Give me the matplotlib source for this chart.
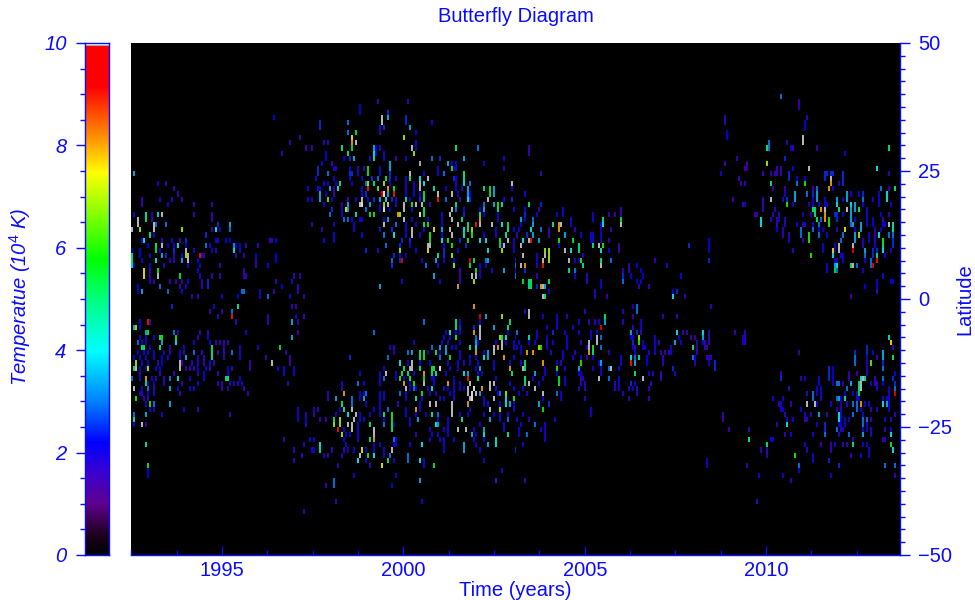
import numpy as np
import matplotlib
matplotlib.use("Agg")
import matplotlib.pyplot as plt
from matplotlib.colors import LinearSegmentedColormap
from matplotlib.ticker import MultipleLocator, FixedLocator

plt.rcParams['font.family'] = ['Liberation Sans', 'DejaVu Sans']
plt.rcParams['mathtext.fontset'] = 'custom'
plt.rcParams['mathtext.rm'] = 'Liberation Sans'
plt.rcParams['mathtext.it'] = 'Liberation Sans:italic'
plt.rcParams['mathtext.default'] = 'it'

TITLE = "Butterfly Diagram"
XLABEL = "Time (years)"
YLABEL_RIGHT = "Latitude"
YLABEL_LEFT = r"Temperatue (10$^{4}$ K)"
TIME_RANGE = (1992.49, 2013.69)
LAT_RANGE = (-50, 50)
TEMP_RANGE = (0, 10)

# each row: latitude -> flat list of year, temperature (10^4 K); >10 is off-scale (grey/white)
north_c22 = {
 35.5:[1996.42,2.2], 30.5:[1996.88,1.6], 28.5:[1996.65,1.8],
 24.5:[1992.55,3.5], 22.5:[1993.26,2,1993.46,1.6], 21.5:[1993.69,1.5], 20.5:[1993.76,1.5],
 19.5:[1992.78,1.6,1992.82,1.6,1993.3,2,1993.6,1.7,1993.9,1.5],
 18.5:[1992.78,1.6,1993.51,2,1994.2,1.5,1994.73,1.5],
 16.5:[1992.58,2,1992.93,4.5,1993.09,1.6,1993.22,3.8,1993.35,11,1994.2,1.5,1994.73,1.5],
 15.5:[1992.66,11,1992.93,5,1993.09,1.6,1994.73,1.5],
 14.5:[1992.66,11,1993.12,11,1993.17,3,1993.44,3,1994.86,2.5,1994.9,2.5,1995.23,3.5],
 13.5:[1992.5,11,1992.72,7,1993.12,11,1993.9,7,1994.7,1.6,1994.84,4,1994.95,2,1995.23,3],
 12.5:[1993.01,5,1993.14,2,1994.57,2.5],
 11.5:[1992.79,2,1992.86,4,1993.33,1.6,1993.6,2,1993.85,1.6,1994.03,2.5,1994.82,2,1994.87,1.6,1995.09,2.2,1995.21,2.2,1996.29,1.6,1996.35,1.6,1996.5,2.2],
 10.5:[1992.98,2.2,1993.19,5,1993.33,11,1993.53,2.2,1993.69,2,1993.79,4,1994.03,2.2,1994.57,3,1994.68,2,1995.3,3.3,1995.37,2,1995.5,2.2,1995.66,1.5,1996.01,1.6],
 9.5:[1992.53,2.2,1992.75,2.2,1993.17,5.5,1993.3,2,1993.69,2.5,1994.03,11,1994.22,2,1994.7,2,1994.82,1.5,1995.32,4,1995.5,2],
 8.5:[1992.53,5,1992.75,2.2,1993.02,2,1993.33,3.5,1993.44,2.5,1993.69,1.7,1993.9,2,1993.99,7,1994.06,11,1994.37,9,1994.45,1.6,1994.51,1.6,1995.37,1.6,1995.6,1.5,1995.92,2.2,1996.5,2.2],
 7.5:[1992.53,5,1992.79,2,1993.19,4,1993.58,1.7,1993.67,1.7,1993.9,3.5,1994.06,11,1994.33,2.2,1995.92,1.7,1996.5,2.2],
 6.5:[1992.53,4.5,1992.59,2,1993.02,2,1993.39,1.7,1994.08,2,1994.37,2,1994.95,1.5,1995.95,1.6,1996.24,2],
 5.5:[1992.84,7.5,1993.04,1.6,1993.25,5.5,1994.36,2,1995.6,1.5],
 4.5:[1992.84,7.5,1993.04,1.6,1993.25,11,1993.82,5.5,1994.37,2,1994.71,1.5,1994.95,1.5,1995.58,1.5,1995.66,1.5,1996.97,1.5],
 3.5:[1993.04,2,1993.12,1.6,1993.54,1.5,1993.71,1.5,1993.9,1.5,1994.05,2,1994.45,1.7,1994.6,2.5,1996.5,1.5,1996.93,2],
 2.5:[1992.7,2.2,1993.3,3,1993.85,1.6,1994.03,2,1994.45,1.6,1994.6,2.5,1996.65,2.2,1997.11,1.6],
 1.5:[1992.7,2.2,1992.82,3.5,1993.51,3,1993.92,2,1995.55,3,1995.62,3,1996.06,2,1996.44,1.5,1997.11,1.6],
 0.5:[1994.17,1.6,1994.36,1.6,1994.97,2,1995.46,2.2,1996.06,2,1996.24,3,1996.88,2,1997.23,1.6],
}

south_c22 = {
 -1.5:[1993.64,2.5,1994.8,2,1995.45,4.5],
 -2.5:[1994.66,1.5,1994.97,1.6,1995.29,3],
 -3.5:[1994.88,1.5,1995.29,9,1996.24,1.5],
 -4.5:[1992.75,2,1992.98,9,1993.04,1.5,1995.37,1.5,1996.24,1.5],
 -5.5:[1992.56,3.5,1992.61,7,1992.75,2],
 -6.5:[1992.9,3.5,1992.96,6,1993.7,3,1993.79,1.7,1994.4,1.6,1994.6,1.6,1995.63,2],
 -7.5:[1992.75,2,1992.93,2,1993.1,2,1993.3,5,1993.36,6,1993.74,6,1994.35,1.6,1994.6,2],
 -8.5:[1992.69,3,1992.8,2,1992.9,2,1993.36,3.5,1993.74,4,1994.2,2,1994.66,2,1994.84,1.6,1994.95,1.6,1995.07,1.6,1995.14,1.6],
 -9.5:[1992.8,5,1992.84,5,1993.02,2,1993.3,5,1993.57,1.6,1993.96,2,1994.71,5,1995.06,1.7,1995.5,2,1996.0,2],
 -10.5:[1992.7,2,1992.84,2,1992.98,2,1993.12,2,1993.4,2,1993.57,1.6,1993.82,2,1993.96,1.6,1994.2,3,1994.45,1.6,1994.71,5,1994.87,1.6,1995.07,1.7,1995.29,3,1995.5,2],
 -11.5:[1992.55,2.2,1992.75,2,1992.93,2,1993.12,2,1993.35,2.2,1993.49,2,1993.85,1.7,1994.03,3.5,1994.35,2,1994.49,1.6,1994.71,5,1995.03,1.6,1995.5,2,1996.2,1.5],
 -12.5:[1992.61,7,1992.8,2,1992.98,2,1993.21,1.6,1993.35,2.2,1993.85,11,1993.9,1.6,1994.17,2,1994.31,1.7,1994.49,1.6,1994.68,2,1994.77,1.6,1995.78,1.5,1996.39,11],
 -13.5:[1992.55,5,1992.61,11,1992.75,2,1992.89,2,1992.96,7,1993.16,2,1993.3,2.2,1993.85,11,1993.99,1.5,1994.11,1.6,1994.22,1.6,1994.31,2,1994.57,2,1994.68,1.6,1995.14,2.2,1995.29,1.5,1995.78,1.5,1996.53,2],
 -14.5:[1992.75,1.7,1993.3,1.6,1993.65,1.5,1994.31,1.7,1994.49,2,1994.89,1.5,1995.14,2],
 -15.5:[1992.53,3,1992.73,2,1992.9,8,1993.07,2,1993.19,1.6,1993.38,1.6,1993.57,3,1993.79,4,1994.1,2,1994.49,2,1995.09,5,1995.16,4.5,1995.5,2],
 -16.5:[1992.9,5,1992.98,2,1993.1,2,1993.38,2,1993.92,1.6,1994.35,2,1994.91,1.6,1994.98,1.6,1995.23,1.6,1995.3,2,1995.46,1.7,1995.53,2],
 -17.5:[1992.58,11,1992.79,2,1992.96,3,1993.12,1.6,1993.57,3.5,1993.81,2,1994.1,2,1994.25,2,1994.98,1.6,1995.16,1.6,1995.6,1.5],
 -18.5:[1992.73,2,1992.82,1.6,1992.98,2,1993.12,2,1993.85,1.5,1995.69,1.5],
 -19.5:[1992.61,6,1992.84,1.6,1992.98,1.6],
 -20.5:[1992.93,2,1993.04,6,1993.14,3,1993.57,3.5],
 -21.5:[1993.04,2,1993.14,2,1993.97,2,1994.36,1.6],
 -22.5:[1992.59,3,1992.9,3.5,1993.33,2,1995.2,1.5],
 -23.5:[1992.55,4.5],
 -24.5:[1992.55,2,1992.82,11,1992.93,1.6],
 -28.5:[1992.9,4.5],
 -32.5:[1992.96,5.5],
 -33.5:[1992.96,2.2], -34.5:[1992.96,2.2],
}

north_c23 = {
 38.5:[1999.3,1.6,2000.1,1.5], 37.5:[1998.77,2.2], 36.5:[1998.77,2.2,1999.58,2.5],
 35.5:[1999.39,11,1999.58,3.5,2000.04,2.5],
 34.5:[1997.71,2.5,1998.47,3,1999.39,11,2000.77,2,2000.04,2.5],
 33.5:[1997.71,2.5,1999.34,1.7,1999.44,2.5,2000.19,3.5],
 32.5:[1998.47,3,1998.66,5.5,1999.34,1.7,2000.33,2.2],
 31.5:[1998.58,7.5,2000.01,7,1997.16,1.5],
 30.5:[1997.82,1.7,1997.94,1.7,1998.58,8,1998.66,11,2000.33,2],
 29.5:[1997.33,1.5,1997.45,1.5,1998.31,5,1998.58,5.5,1999.2,3.5,1999.26,2,1999.34,1.7,2000.24,11,2000.33,2,2001.45,5,2002.06,3,2003.5,1.5],
 28.5:[1997.88,2.2,1998.45,5,1999.2,4,1999.26,2,1999.44,2,2000.26,7,2003.5,1.5],
 27.5:[1997.88,2.2,1998.38,2.2,1998.52,2.5,1998.61,3.5,1999.09,1.7,1999.2,4.5,1999.46,2,1999.76,1.5,2000.08,2,2000.77,3,2001.02,2.5,2001.66,3.5,2002.75,2],
 26.5:[1997.73,2,1998.03,1.5,1999.61,3.5,2000.47,10.5,2001.2,3.5,2001.31,2,2001.45,2,2002.2,2],
 25.5:[1997.62,2.5,1998.08,2,1998.15,1.7,1998.52,2,1998.72,1.7,1998.9,1.5,1999.02,5.5,1999.37,2,1999.61,3.5,2000.93,2,2001.31,6,2001.39,2,2001.45,1.7,2002.75,1.5],
 24.5:[1997.62,2.5,1997.94,3,1998.54,2.5,1998.58,2.5,1998.72,1.7,1999.02,5.5,1999.37,2,1999.64,2.5,2000.15,11,2000.19,2.2,2000.54,2,2000.93,2,2001.13,3,2001.64,5,2003.82,1.5],
 23.5:[1997.6,2,1998.1,2,1998.54,2,1998.83,2,1999.11,2.5,1999.3,3,1999.5,6,1999.62,2.5,1999.76,2,2000.05,2,2000.19,5,2000.45,4,2000.65,11,2001.36,2.5,2001.45,2,2001.64,4.5],
 22.5:[1997.78,2,1997.94,2,1998.12,2,1998.24,4.5,1998.56,2,1998.95,3,1999.02,7,1999.2,5,1999.46,7,1999.64,2,2000.05,2,2000.28,2,2000.47,11,2000.58,4,2001.43,2,2001.64,4,2001.8,3,2003.0,11],
 21.5:[1997.39,2,1997.62,1.7,1997.71,2.2,1997.97,3.5,1998.1,1.5,1998.2,4,1998.86,2,1999.02,9,1999.29,6.5,1999.57,8,1999.71,5.5,2000.05,2,2000.28,2,2000.47,11,2000.82,4.5,2001.14,2,2001.43,2,2001.59,1.7,2001.78,3.5,2002.2,5,2002.37,5.5,2002.51,3.5,2002.97,2],
 20.5:[1997.71,3.5,1997.88,2,1998.08,1.5,1998.86,2,1998.95,2.5,1999.41,9.5,1999.48,12,1999.57,3.5,1999.71,9,2000.05,2,2000.28,2,2000.42,2,2000.58,5.5,2000.93,11,2001.34,11,2001.48,2,2001.75,3.5,2001.85,2.2,2002.37,5.5,2002.51,3.5,2003.39,2],
 19.5:[1997.39,2,1997.5,2,1997.71,3.5,1997.92,6.5,1998.03,2,1998.49,1.5,1998.66,2,1998.86,11,1999.04,2,1999.18,2.5,1999.35,3.5,1999.5,4,1999.66,2.5,1999.78,1.7,2000.04,4.5,2000.19,2,2000.47,2.5,2000.58,5,2000.93,9,2001.18,3,2001.55,1.5,2001.75,4,2001.85,2.5,2002.31,11,2002.75,2,2003.0,2.5],
 18.5:[1997.83,2,1998.31,1.7,1998.49,3.5,1998.77,11,1998.86,12,1999.09,3.5,1999.37,2,1999.44,7,1999.58,11,1999.78,1.7,2000.01,11,2000.24,6,2000.36,11,2000.5,11,2000.74,1.7,2001.45,5,2002.21,3,2002.47,3.5,2002.58,5.5,2002.72,4.5,2003.5,5,2003.82,2.5],
 17.5:[1998.03,2.5,1998.31,2,1998.42,7.5,1998.49,3.5,1998.95,3,1999.37,2,1999.48,12,1999.64,2.2,2000.01,11,2000.24,2,2000.54,5,2001.34,11,2001.45,3,2001.66,2,2002.12,2,2002.21,3.5,2002.58,5,2003.04,2,2003.39,2,2003.73,1.5,2004.42,2,2006.01,1.5],
 16.5:[1997.99,3,1998.31,2,1998.66,4.5,1999.09,5.5,1999.2,5.5,1999.82,8,1999.9,7,2000.42,12,2000.54,5,2001.07,2,2001.28,11,2001.66,2.5,2002.1,5,2002.21,2,2002.58,2,2003.39,2.5,2003.68,2,2004.24,2,2004.42,2,2005.23,2,2005.69,1.5,2005.84,1.5,2006.01,1.5],
 15.5:[1998.35,3,1998.45,3,1998.58,2,1998.77,2,1998.86,2,1999.44,2,1999.55,3.5,2000.01,11,2000.24,2,2000.65,2,2001.07,2,2001.34,11,2001.63,5,2002.08,8,2002.58,2,2003.23,3.5,2003.39,2,2003.59,3,2004.63,1.7,2005.23,2,2005.54,5,2006.01,5.5],
 14.5:[1997.5,1.5,1998.08,2,1998.63,2,1999.44,11,1999.78,3,2000.08,2,2000.33,2,2000.54,5,2000.67,6,2001.07,2,2001.48,11,2001.75,5,2001.98,9,2002.08,11,2002.44,11,2002.72,4,2002.86,5.5,2003.23,2,2003.59,3.5,2004.16,4.5,2004.28,8,2004.35,11,2004.63,2,2005.46,2,2005.54,4,2006.01,11],
 13.5:[1997.73,1.5,1998.63,2,1999.37,1.7,1999.69,2.5,2000.08,2,2000.24,11,2000.56,2,2000.82,7.5,2001.07,3.5,2001.28,11,2001.66,4,2001.78,5,2001.89,7,2002.54,2,2002.86,4.5,2003.04,2,2003.18,2,2003.55,4,2003.78,3,2004.01,1.5,2004.28,8,2004.74,1.7,2005.48,2,2005.75,1.5],
 12.5:[1998.08,2,1998.86,2,1999.46,3,1999.73,4,2000.08,2,2000.24,11,2000.45,2,2000.7,6,2001.34,11,2001.07,2,2001.66,4.5,2001.89,6,2002.21,2,2002.52,2,2002.84,4.5,2003.13,1.5,2003.41,2.5,2003.59,3.5,2004.03,1.5,2004.48,3.5,2004.91,2,2005.17,2,2005.25,2,2005.48,2],
 11.5:[1997.82,2,1998.08,2,1999.96,2.5,2000.19,2.5,2000.7,6,2001.07,4,2001.2,5.5,2001.57,2.5,2001.75,6,2002.12,4,2002.26,4,2002.66,6,2002.88,11,2003.04,2,2003.32,4,2003.48,11,2003.55,9,2003.73,3.5,2004.28,6,2004.67,5.5,2005.17,2,2005.25,2,2005.48,2,2005.66,1.5],
 10.5:[1999.5,3,1999.87,2.5,2000.19,2,2000.65,11,2000.72,11,2001.11,2,2001.34,6,2001.73,2.5,2002.66,6,2002.78,11,2002.72,2,2003.23,11,2003.04,2,2004.28,2,2004.83,5,2005.25,5,2005.4,11,2005.54,6,2005.98,1.5],
 9.5:[1998.95,2.5,1999.29,1.7,1999.87,7,2000.33,2,2000.65,7.5,2001.11,2.5,2001.48,2,2002.33,4,2002.72,7,2003.04,2,2003.94,7,2004.01,7,2004.49,11,2004.65,4,2004.83,5,2005.48,4,2005.66,2,2005.98,1.5],
 8.5:[1999.73,2.5,1999.92,2,2000.05,2.2,2000.93,4.5,2001.11,2.5,2001.34,7,2003.29,11,2003.68,2,2003.94,11,2004.01,7,2004.97,1.7],
 7.5:[1999.69,3,1999.87,2.5,1999.96,9.5,2000.49,2,2000.91,3.5,2001.11,2,2001.37,2,2001.85,9.5,2001.94,5,2002.26,3,2002.33,3.5,2003.09,1.7,2003.68,2,2003.87,11,2004.01,7,2004.58,11,2004.74,2,2004.83,2,2004.88,6,2005.48,5,2005.75,3],
 6.5:[1999.69,2.5,2000.61,3,2000.93,2,2001.41,7,2001.82,5.5,2002.1,2,2002.26,2,2003.23,11,2003.36,8,2003.09,3,2003.67,1.7,2003.85,9,2004.97,5,2005.48,11,2006.21,1.5],
 5.5:[2001.55,1.5,2002.01,6,2002.1,2,2002.44,2,2002.75,3.5,2003.09,2,2003.36,2.5,2004.58,5,2004.74,3,2006.06,1.5],
 4.5:[1997.16,1.5,2000.81,3.5,2001.55,1.5,2001.87,11,2001.98,11,2002.08,2,2003.09,3,2003.68,1.7,2004.74,2,2005.05,1.7,2006.07,2.5],
 3.5:[1999.96,2,2001.02,2,2001.57,1.5,2001.94,7,2003.3,5.5,2003.48,5,2003.55,5,2004.05,5,2005.05,1.7,2005.48,2],
 2.5:[1999.35,3.5,2001.48,8,2003.48,5,2003.55,5,2003.68,2.5,2003.78,8,2003.85,11,2003.93,3.5,2005.48,2],
 1.5:[2004.05,2,2005.32,1.7], 0.5:[1997.23,1.5,2003.85,11,2003.92,5,2005.32,1.7,2005.62,1.5],
}

south_c23 = {
 -1.5:[1997.04,1.5,2001.94,8,1996.9,1.5],
 -2.5:[2003.5,11,2005.02,1.5,2003.37,1.6],
 -3.5:[1997.02,2,1997.23,1.5,2002.08,2.5,2002.12,9.5,2002.26,3.5,2002.71,7,2003.5,11,2003.87,2,2004.26,2,2004.51,1.5,2005.55,5],
 -4.5:[1996.93,3.5,1997.07,1.7,2000.56,3,2001.46,5,2001.53,2,2002.12,2,2002.9,5,2004.24,2,2004.84,2,2005.11,1.5,2005.29,1.7,2005.39,2,2005.55,3.5],
 -5.5:[2001.46,5,2001.55,2.5,2001.94,2.5,2002.1,11,2002.47,3.5,2002.86,5,2003.96,2,2004.24,2,2004.69,2,2005.48,9.5],
 -6.5:[1997.07,1.5,1999.16,3,2001.16,2,2001.3,4,2001.46,2,2001.55,2,2001.94,8,2002.1,11,2002.86,2,2003.13,3,2004.15,2.5,2003.69,2,2004.49,2,2004.84,2,2005.2,2,2005.36,2],
 -7.5:[1996.93,3.5,2001.11,2,2001.3,2,2001.46,5,2002.01,3,2002.1,11,2002.63,7,2002.72,5,2002.79,4,2003.09,2,2003.46,4.5,2003.5,2,2003.69,2,2003.96,2,2004.51,2,2005.2,2,2005.36,11,2005.48,3],
 -8.5:[2000.29,2,2001.07,2,2001.2,2,2001.55,2,2001.97,3.5,2002.05,2,2002.54,2,2002.68,11,2002.79,2,2003.04,2,2003.18,2,2003.5,2,2003.64,2,2003.96,1.7,2004.15,2,2004.51,2,2004.89,1.7,2005.15,11,2005.36,11],
 -9.5:[1996.61,5.5,1999.64,2,1999.74,1.5,2000.77,3,2001.02,3.5,2001.16,3.5,2001.32,2,2001.43,2,2001.85,4.5,2002.01,4,2002.51,11,2002.58,8,2002.69,11,2003.04,2,2003.15,2,2003.27,2,2003.73,7,2003.78,6,2003.96,2,2004.51,2,2005.07,1.7,2005.15,11,2005.23,6,2005.45,3],
 -10.5:[1996.75,1.5,1999.74,2,2000.1,3,2000.24,3.5,2000.47,5,2000.56,6,2000.65,2,2000.86,5,2001.02,2,2001.18,3.5,2001.57,2,2002.01,8,2002.21,2,2002.31,3.5,2002.51,11,2003.27,2,2003.43,8,2003.59,8,2004.1,1.7,2004.42,2,2004.74,1.7,2005.15,8,2005.23,5,2005.66,1.7],
 -11.5:[1996.89,1.5,1998.54,2.5,1999.55,3,2000.47,5,2000.58,6,2001.0,3,2001.3,6,2001.53,2,2001.8,2,2002.01,2,2002.23,4,2002.31,3.5,2002.74,8,2003.04,2,2004.42,2,2004.68,2,2004.93,2,2005.05,1.5,2005.25,2],
 -12.5:[1996.89,1.5,1999.92,4,2000.1,2,2000.21,11,2000.47,2,2000.7,2,2001.2,2,2001.48,2,2001.67,1.7,2001.85,2,2002.03,2,2002.51,2,2002.9,2,2003.23,1.7,2003.36,5,2003.87,8,2004.36,1.7,2004.22,2,2004.92,6,2005.38,2,2005.45,3.5],
 -13.5:[1996.68,2,1996.98,2,1999.46,2,2000.18,11,2000.03,5,2000.21,11,2000.47,5,2000.75,6,2000.84,5,2001.0,12,2001.25,2,2001.48,2,2001.99,2,2002.12,3.5,2002.51,2,2002.9,8,2003.29,11,2003.36,5,2003.92,2,2004.24,6,2004.47,2,2004.85,3.5,2005.25,2,2005.48,2],
 -14.5:[1996.68,2,1997.0,2,1998.82,2,1999.37,2,1999.5,11,1999.78,2,1999.94,5,2000.1,5,2000.29,2,2000.58,8,2000.75,5,2000.86,4,2001.18,2,2001.64,4,2001.78,3.5,2002.03,2,2002.17,2,2002.97,5,2003.64,3.5,2003.92,2,2004.24,2,2004.83,2,2004.93,2,2005.48,2],
 -15.5:[1999.35,2,1999.48,3,1999.81,2,1999.9,6,2000.0,2,2000.15,5,2000.56,5.5,2000.75,2,2000.82,2,2001.39,2,2001.77,9,2002.05,4.5,2002.54,2,2003.36,5,2003.61,2,2003.87,2,2004.28,5.5,2004.47,2,2004.93,1.7,2004.97,1.7,2005.41,11],
 -16.5:[1996.83,1.5,1998.31,2,1998.72,3,1998.91,2,1999.32,2,1999.99,8,2000.15,2,2000.27,5.5,2000.56,11,2000.82,2,2001.23,8,2001.41,2,2001.57,2,2001.8,11,2002.38,11,2002.46,11,2002.95,2,2003.36,5,2003.46,11,2003.73,2,2004.31,5.5,2004.47,2,2004.93,1.7,2005.02,1.7],
 -17.5:[1998.31,1.7,2000.05,11,2000.29,3,2000.17,2,2000.36,2,2000.65,2,2000.79,4,2001.11,2,2001.23,2,2001.39,2,2001.57,2,2001.68,2,2001.77,11,2001.92,12,2002.17,8,2002.35,11,2002.56,2,2003.04,2,2003.32,2,2003.64,11,2004.83,1.7,2005.02,1.7],
 -18.5:[1997.91,1.7,1998.34,8,1998.77,2,1998.91,2,1998.98,3,1999.32,2,1999.48,2,1999.87,3,2000.06,2,2000.49,5.5,2000.7,2,2000.88,2,2001.25,2,2001.39,2,2001.77,11,2001.9,12,2001.99,11,2002.12,3.5,2002.58,2,2002.67,3,2002.84,7,2003.18,2,2003.43,1.7,2003.87,11,2004.24,3,2004.37,2],
 -19.5:[1997.91,1.7,1998.13,3.5,1998.58,3,1998.82,2,1998.91,3.5,1999.32,2,1999.48,2,2000.06,2,2000.36,4.5,2000.49,2,2000.97,1.7,2001.11,2,2001.39,2,2001.8,11,2001.9,12,2002.21,2,2002.46,11,2002.81,4,2003.04,6,2003.87,2,2004.37,2,2005.02,1.7],
 -20.5:[1998.31,5,1998.56,3,1998.95,2,1999.32,2,1999.82,1.7,2000.42,2,2000.7,11,2000.86,11,2001.32,11,2001.77,8,2002.21,2,2002.31,2,2002.67,2,2002.81,4,2002.9,3.5,2003.04,2,2003.73,3.5,2004.01,2.5],
 -21.5:[1997.07,2,1997.51,1.7,1997.64,1.5,1998.26,2,1998.36,4.5,1998.56,11,1999.18,2,1999.32,2,1999.55,3,2000.08,2,2000.33,8,2000.42,2,2001.32,11,2001.85,2,2002.4,11,2002.66,7,2003.04,2,2003.85,5.5,2005.16,2],
 -22.5:[1997.07,2,1997.33,1.7,1997.53,1.6,1998.13,2,1998.45,4,1998.71,11,1998.82,2,1999.05,2,1999.32,2,1999.44,5,1999.7,6,2000.08,2,2000.33,2,2000.63,2,2000.79,4.5,2000.93,3,2001.32,11,2001.53,2,2001.76,2,2002.21,2,2002.49,2,2002.67,2,2002.86,2,2003.32,2,2005.16,2],
 -23.5:[1997.07,2,1997.3,2,1997.67,1.6,1997.85,1.7,1998.06,5,1998.25,7,1998.61,11,1998.82,2,1998.91,2,1999.44,2,1999.7,6,2000.15,2,2000.4,3.5,2000.93,2,2001.21,2,2001.6,4.5,2002.4,3.5,2002.67,2,2002.86,3,2003.12,2,2003.46,1.7,2004.19,2],
 -24.5:[1997.3,1.7,1998.06,7,1998.25,7,1998.47,11,1998.59,11,1998.74,2,1999.09,5,1999.44,3,1999.7,6,1999.75,2,2000.15,2,2000.88,4,2000.93,3.5,2001.21,2,2002.12,2,2002.75,2,2003.23,2,2003.64,3,2003.93,2],
 -25.5:[1998.17,9,1998.36,2,1998.59,11,1998.72,2,1999.16,11,1999.7,5,2000.7,2,2001.11,2,2001.21,2,2001.48,11,2001.73,11,2001.92,2,2002.2,3.5,2002.75,2,2003.21,2,2003.78,2,2003.93,2],
 -26.5:[1998.28,7,1998.4,2,1998.54,2,1998.72,2,1999.16,11,2000.33,1.5,2000.75,2,2000.93,2,2001.21,2,2001.87,3.5,2001.99,2,2002.2,4,2002.89,4.5,2003.21,2,2003.44,3,2003.93,2],
 -27.5:[1996.68,1.5,1997.44,2,1997.51,2,1998.34,2,1998.72,2,1999.05,5,1999.16,8,1999.73,3,1999.78,2,2000.7,2,2000.97,2,2001.11,2,2001.39,2,2001.92,2,2002.2,2,2002.54,4.5,2003.93,2],
 -28.5:[1997.27,2,1997.69,4,1998.4,2,1999.2,2,1999.32,2,1999.73,2,1999.78,2,2000.15,2,2000.49,4,2001.13,2,2001.66,3.5,2001.99,2,2002.31,3.5,2002.54,4,2003.32,2],
 -29.5:[1996.96,1.7,1997.48,2,1997.53,2,1997.69,4.5,1998.03,1.6,1998.34,1.6,1998.47,2,1998.61,2,1998.86,7.5,1998.95,2,1999.16,2,1999.48,2,1999.7,11,2001.13,2,2001.66,3.5,2002.12,2,2003.09,2.5],
 -30.5:[1997.21,1.7,1997.79,1.7,1997.94,1.7,1998.31,1.7,1998.77,11,1999.02,6,1999.18,4,1999.48,2,1999.6,3,2000.1,3],
 -31.5:[1996.96,1.7,1998.72,4,1998.98,2,1999.55,5,1999.75,2,2000.1,3,2000.47,4,2000.58,2,2002.23,2],
 -32.5:[1998.17,1.7,1999.05,1.7,1999.41,7.5,2000.54,2,2000.82,5.5],
 -33.5:[2002.69,2], -34.5:[1998.65,2,1999.76,2],
 -35.5:[1998.1,3,2000.44,3.5,2002.54,2.5,2003.36,1.5],
 -36.5:[1997.88,1.6,1998.1,3,1999.69,2],
 -39.5:[1998.13,1.6,2000.5,2], -41.5:[1997.25,1.6],
}

middle_band = {
 18.5:[2009.38,1.5], 16.5:[2009.7,1.5], 10.5:[2007.9,2.5,2008.42,2], 9.5:[2008.42,2],
 7.5:[2008.42,2.5,2006.97,1.6], 6.5:[2007.29,1.7,2006.44,2.2], 5.5:[2006.55,2.2,2006.23,1.5],
 4.5:[2006.05,1.6,2006.26,2.2,2006.6,2.2,2007.64,2], 3.5:[2006.07,3,2006.44,2.2,2006.54,2],
 2.5:[2006.51,1.5,2006.79,1.5], 1.5:[2007.43,2.2,2007.57,2.5], 0.5:[2007.43,4,2007.77,1.7],
 -1.5:[2006.32,2,2006.47,3,2008.51,1.5], -2.5:[2006.05,1.7,2006.47,3],
 -3.5:[2006.32,1.6,2007.18,1.5,2007.57,1.5], -4.5:[2006.07,1.7,2006.58,2],
 -5.5:[2006.32,1.6,2006.58,2],
 -6.5:[2006.26,3.5,2006.46,2.5,2006.58,1.6,2007.57,4,2007.71,1.5,2007.82,1.5,2008.26,4,2009.13,1.5],
 -7.5:[2006.26,2,2006.32,2,2006.53,7,2006.92,2,2007.62,2,2007.96,1.5,2008.05,1.5,2008.26,3.5,2008.42,1.6,2009.43,1.6,2009.36,2],
 -8.5:[2006.32,2.5,2006.53,6,2006.63,2,2006.92,2,2007.04,1.6,2007.47,3.5,2007.64,2,2008.1,1.6,2008.26,2,2008.42,1.6,2009.36,2,2009.43,1.6],
 -9.5:[2006.32,2,2006.4,1.7,2006.63,2,2006.69,2,2006.97,2,2007.38,2,2007.99,5,2008.11,1.7,2008.35,1.6],
 -10.5:[2006.4,2,2006.76,2,2006.97,2,2007.13,1.5,2007.22,1.5,2007.31,1.5,2007.38,2,2008.11,1.6],
 -11.5:[2006.03,2,2006.3,4,2006.4,3,2006.53,4.5,2006.7,2.2,2007.18,1.6,2007.99,3,2008.07,2,2008.35,1.6,2008.48,1.7,2008.42,1.7],
 -12.5:[2006.03,2,2006.3,9,2006.4,3.5,2006.72,2.2,2007.18,1.6,2008.05,1.7,2008.42,2,2008.6,2.5],
 -13.5:[2005.94,2,2005.66,3,2005.73,11,2007.45,2.5,2008.6,2.5],
 -14.5:[2006.37,5,2006.76,2,2006.9,1.7,2007.09,1.6,2007.47,1.7],
 -15.5:[2005.66,3,2005.41,11,2005.94,2,2006.64,11,2007.09,1.6],
 -16.5:[2005.95,2,2006.3,2.5,2006.4,2,2006.86,1.6,2005.83,1.7],
 -17.5:[2005.83,1.7,2005.98,2,2006.23,1.7,2006.35,2,2006.44,1.6,2006.79,1.7],
 -18.5:[2006.07,1.7,2006.44,1.7],
 -19.5:[2006.23,1.6,2006.79,1.6],
}

north_c24 = {
 39.5:[2010.4,3], 38.5:[2010.89,1.5], 37.5:[2010.89,1.5],
 35.5:[2008.88,1.7,2011.13,1.5], 34.5:[2008.88,1.7,2011.07,2.2], 33.5:[2011.07,2.2],
 32.5:[2008.91,2.2], 31.5:[2008.91,2.2,2011.0,11], 30.5:[2011.0,11,2010.07,3,2010.6,1.5],
 29.5:[2010.01,5,2010.07,3,2010.67,2,2010.74,1.5,2011.39,1.5,2013.39,5],
 28.5:[2012.2,2], 27.5:[2009.2,1.5,2010.5,2.5], 26.5:[2008.85,1.5,2009.48,1.5,2010.01,7],
 25.5:[2009.4,1.5,2009.48,1.5,2010.29,1.6,2010.4,1.6,2010.73,2,2011.2,11,2013.04,4],
 24.5:[2008.76,2,2009.9,1.6,2010.15,1.7,2010.26,1.6,2010.33,1.5,2010.4,1.5,2010.65,2.5,2011.61,2.5,2011.68,2.5,2011.79,2.5,2011.83,2.5,2012.1,2.5,2013.36,1.5],
 23.5:[2009.27,1.5,2010.65,2.5,2010.85,2.2,2011.1,2.2,2011.61,2.5,2011.77,11,2012.1,2.5],
 22.5:[2009.31,1.5,2009.4,1.5,2010.15,5,2010.85,3,2011.1,6,2011.79,8,2012.03,1.7,2012.1,2.5],
 21.5:[2010.19,1.7,2010.5,1.5,2011.31,1.6,2011.39,3,2011.76,8,2011.83,2,2013.15,3,2013.37,1.7,2013.54,5],
 20.5:[2010.78,3.5,2010.53,2,2011.11,3,2011.29,2.5,2011.42,3.5,2012.23,3.5,2012.33,2,2012.56,2,2012.67,2.5,2013.1,2,2013.32,4],
 19.5:[2009.09,1.5,2009.94,1.6,2010.14,11,2010.47,1.7,2010.56,2.5,2010.78,3.5,2011.3,2,2011.42,3.5,2011.61,2,2011.94,3.5,2012.12,2,2012.23,3.5,2012.67,3,2012.95,2,2013.1,2,2013.32,4],
 18.5:[2009.4,2,2009.94,1.6,2010.56,6,2010.74,2,2011.18,2,2011.31,2,2011.45,2,2011.61,2,2011.68,2,2011.94,4,2012.33,4,2012.44,3.5,2012.65,2,2013.09,2,2013.45,2],
 17.5:[2009.94,1.6,2010.26,1.7,2011.31,5,2011.36,5,2011.52,8,2011.64,11,2012.03,5,2012.23,11,2012.33,3.5,2012.44,3.5,2012.56,5,2012.76,2],
 16.5:[2009.73,1.5,2010.19,1.5,2010.38,1.7,2011.04,2,2011.25,1.7,2011.36,5,2011.64,8,2011.91,2.5,2011.98,2.5,2012.14,2,2012.33,3.5,2012.76,2,2013.15,2,2013.41,1.7],
 15.5:[2009.87,4,2010.15,1.7,2010.29,1.6,2010.38,2,2010.53,1.7,2011.41,5,2011.5,3,2011.64,8,2011.73,6,2011.98,2.5,2012.33,3.5,2012.46,2,2012.79,2,2012.95,2,2013.23,1.6],
 14.5:[2009.87,4,2010.29,1.6,2010.53,1.7,2010.85,2,2011.02,1.7,2011.06,1.7,2011.27,2,2011.45,3,2011.73,6,2012.33,3,2012.4,3.5,2012.63,3.5,2012.79,2,2012.97,2.2,2013.24,2.2,2013.29,2.2,2013.36,11,2013.47,4.5],
 13.5:[2010.29,2.2,2010.47,1.7,2010.95,3,2011.31,3,2011.48,2,2011.59,2.2,2011.96,1.7,2012.2,7.5,2012.46,2,2012.63,3.5,2013.01,1.7,2013.15,2,2013.47,4.5],
 12.5:[2010.47,1.7,2010.63,1.6,2010.97,3,2011.18,6,2011.45,3,2011.7,2,2012.12,3,2012.46,3.5,2012.58,7,2012.83,2,2013.01,1.7,2013.13,4,2013.38,3,2013.47,3],
 11.5:[2008.42,2.2,2010.65,2,2011.04,1.7,2011.18,6,2012.07,3,2012.46,3.5,2012.69,1.7,2012.83,2,2013.01,1.7,2013.2,6,2013.47,2.5],
 10.5:[2008.42,2.2,2011.59,2,2011.88,2,2012.03,11,2012.42,11,2012.69,1.7,2013.01,2.2,2013.24,5,2013.47,2.5],
 9.5:[2008.42,2.2,2010.72,1.5,2011.59,2,2011.82,7.5,2011.88,2,2012.03,11,2012.42,9.5,2012.72,3.5,2012.97,2.5,2013.06,2.5,2013.2,4,2013.43,2],
 8.5:[2011.25,6,2011.85,4,2012.12,2,2012.07,2,2012.72,3,2012.97,2.5,2013.08,5,2013.26,2],
 7.5:[2008.42,2.5,2011.91,2,2011.98,2,2012.12,2,2012.74,2,2012.9,3,2013.08,9],
 6.5:[2011.7,2,2011.88,3.5,2011.98,4,2012.35,5,2012.4,11,2012.48,3,2012.9,3,2012.94,9.5],
 5.5:[2011.7,2,2011.88,5.5,2011.98,3,2012.69,2],
 4.5:[2013.24,2], 3.5:[2013.08,2,2013.43,2.2,2013.5,2.2], 2.5:[2012.72,2.2,2013.04,2.2],
 1.5:[2013.08,1.6], 0.5:[2012.34,1.5],
}

south_c24 = {
 -6.5:[2008.26,3.5,2008.42,1.6,2009.43,1.7],
 -7.5:[2008.26,3.5,2008.42,1.6,2009.37,1.7,2009.43,1.7,2013.38,4.5],
 -8.5:[2008.33,1.6,2008.42,1.6,2009.37,1.7,2009.43,1.7,2013.43,7.5],
 -9.5:[2008.33,1.5,2012.78,2.5,2013.47,1.5],
 -10.5:[2010.93,1.5,2012.43,2.5,2012.78,2.5,2012.95,2,2013.2,3.5],
 -11.5:[2008.36,1.6,2008.42,1.6,2008.48,1.6,2012.43,3,2012.76,2,2013.04,1.7,2013.2,3.5,2013.5,5],
 -12.5:[2008.42,2,2008.6,2.2,2012.43,3,2012.76,2,2012.88,6.5,2013.24,2.5],
 -13.5:[2008.6,2.2,2011.76,2.5,2011.84,2.2,2012.76,1.7,2013.24,3],
 -14.5:[2010.42,1.5,2011.76,2.5,2011.84,2.2,2012.28,1.6,2012.48,1.6,2012.76,1.7,2013.54,2],
 -15.5:[2010.42,2.5,2010.97,1.6,2011.07,2,2011.48,2,2011.76,2.5,2011.84,2.2,2012.28,1.6,2012.6,4,2012.66,11,2012.72,4.5,2012.99,1.7,2013.24,3,2013.49,2.5],
 -16.5:[2011.48,2,2011.82,2,2011.93,3,2011.99,3,2012.14,1.7,2012.34,3.5,2012.57,5,2012.6,11,2012.9,2,2012.99,1.7,2013.06,1.6,2013.22,2,2013.54,2.5],
 -17.5:[2010.64,1.6,2011.39,2,2011.5,2,2012.23,3,2012.58,5,2012.6,11,2013.06,2,2013.38,2,2013.54,3],
 -18.5:[2011.15,1.6,2011.29,3,2011.39,2,2011.5,2,2012.19,2,2012.37,2,2012.49,1.7,2012.58,5.5,2013.38,2,2013.54,9.5],
 -19.5:[2010.19,2,2010.47,2,2011.3,3,2011.54,1.7,2011.96,3,2012.03,3.5,2012.08,2,2012.16,4.5,2012.51,1.7,2012.58,2,2013.24,2,2013.35,2,2013.41,2],
 -20.5:[2010.35,1.6,2010.42,2,2010.67,1.6,2011.15,11,2011.33,11,2011.41,2,2011.79,2,2012.05,2,2012.23,1.7,2012.37,3,2012.49,3,2012.62,8,2012.71,2,2012.83,2,2013.24,4,2013.32,3.5,2013.41,2],
 -21.5:[2010.4,2,2010.47,2,2010.97,2,2011.94,2,2012.05,1.7,2012.49,3,2012.62,2,2012.9,1.6,2013.06,1.7,2013.38,2],
 -22.5:[2008.81,1.5,2010.53,1.6,2011.06,2,2011.22,1.6,2011.44,3.5,2011.66,1.6,2011.99,4,2012.05,2,2012.37,3,2012.66,2,2013.54,1.6],
 -23.5:[2008.81,1.5,2010.6,2,2010.75,2,2011.08,1.6,2011.15,1.6,2011.99,4,2012.05,2,2012.16,2,2012.28,2,2012.66,3,2012.78,3,2012.9,1.6,2013.29,2,2013.45,1.7],
 -24.5:[2010.3,1.5,2010.6,4,2011.42,2,2011.61,2.5,2011.99,2,2012.05,2,2012.16,2,2012.66,3,2012.77,2],
 -25.5:[2008.99,1.5,2009.54,1.5,2011.61,2.5,2011.94,3,2012.12,2,2012.05,1.7,2012.66,2,2012.77,2,2012.88,1.7,2013.26,1.7,2013.45,2],
 -26.5:[2010.53,1.6,2010.67,2,2011.31,2,2011.61,3,2011.99,1.7,2012.28,3,2012.66,3.5,2012.88,1.7,2013.45,4],
 -27.5:[2009.54,4.5,2010.12,2,2010.18,2,2012.4,1.6,2013.2,1.6,2013.29,1.7],
 -28.5:[2010.05,5,2011.07,2,2011.5,1.6,2011.8,1.6,2011.91,2,2012.12,1.6,2012.23,1.6,2012.37,5,2012.66,2,2012.8,2,2013.45,5.5],
 -29.5:[2009.84,1.5,2010.05,1.6,2011.11,1.6,2011.8,1.6,2012.83,2,2013.47,4],
 -30.5:[2010.05,1.6,2010.78,6,2011.29,2,2012.34,1.6,2012.62,2,2012.83,2],
 -31.5:[2008.37,2,2011.29,2,2011.75,2.5],
 -32.5:[2008.37,2,2009.45,1.6,2010.92,3,2012.02,2.5,2013.29,3,2013.54,3],
 -33.5:[2010.92,2],
 -34.5:[2009.8,2,2010.47,2,2011.8,2,2013.54,1.6],
 -35.5:[2010.67,1.6], -39.5:[2009.75,1.6],
}

REGIONS = [north_c22, south_c22, north_c23, south_c23, middle_band, north_c24, south_c24]

# colour scale positions in temperature units
TEMP_STOPS = [0, 0.4, 1.0, 1.6, 2.2, 3.0, 4.0, 5.0, 5.8, 7.5, 8.2, 9.2, 10.0, 10.001, 12]
COLOR_STOPS = ['#000000', '#200020', '#600090', '#3c00d0', '#0000ff', '#0080ff', '#00ffff',
               '#00ff80', '#00ff00', '#ffff00', '#ff9000', '#ff0000', '#ff0000', '#b0b0b0', '#ffffff']
BLUE = '#0a0aff'

TMAX = TEMP_STOPS[-1]
cmap = LinearSegmentedColormap.from_list('temp', [(t / TMAX, c) for t, c in zip(TEMP_STOPS, COLOR_STOPS)], N=1024)

dt = 0.055
nx = int(round((TIME_RANGE[1] - TIME_RANGE[0]) / dt))
ny = LAT_RANGE[1] - LAT_RANGE[0]
grid = np.zeros((ny, nx))
for region in REGIONS:
    for lat, row in region.items():
        j = int(np.floor(lat - LAT_RANGE[0]))
        for year, temp in zip(row[::2], row[1::2]):
            i = int((year - TIME_RANGE[0]) / (TIME_RANGE[1] - TIME_RANGE[0]) * nx)
            if 0 <= i < nx and 0 <= j < ny:
                grid[j, i] = max(grid[j, i], temp)

fig = plt.figure(figsize=(9.75, 6.0), dpi=100)
W, H = 975.0, 600.0
ax = fig.add_axes([131 / W, 1 - 555 / H, (900 - 131) / W, (555 - 43) / H], facecolor='black')
cax = fig.add_axes([85 / W, 1 - 555 / H, (109 - 85) / W, (555 - 43) / H])

ax.imshow(grid, origin='lower', extent=[*TIME_RANGE, *LAT_RANGE], aspect='auto',
          cmap=cmap, vmin=0, vmax=TMAX, interpolation='nearest', alpha=0.85)
ax.set_xlim(*TIME_RANGE)
ax.set_ylim(*LAT_RANGE)

for s in ['top', 'left']:
    ax.spines[s].set_visible(False)
for s in ['right', 'bottom']:
    ax.spines[s].set_color(BLUE)
    ax.spines[s].set_linewidth(1.0)

ax.xaxis.set_major_locator(MultipleLocator(5))
ax.xaxis.set_minor_locator(MultipleLocator(1.25))
ax.tick_params(axis='x', which='major', direction='in', length=6.8, width=1, color=BLUE,
               labelcolor=BLUE, labelsize=14.5, pad=4, top=False)
ax.tick_params(axis='x', which='minor', direction='in', length=3.4, width=1, color=BLUE, top=False)

ax.yaxis.tick_right()
ax.yaxis.set_major_locator(FixedLocator([-50, -25, 0, 25, 50]))
ax.yaxis.set_minor_locator(MultipleLocator(2.5))
ax.tick_params(axis='y', which='major', direction='out', length=7, width=1, color=BLUE,
               labelcolor=BLUE, labelsize=14.5, pad=6)
ax.tick_params(axis='y', which='minor', direction='out', length=3.4, width=1, color=BLUE)

fig.text(515.5 / W, 1 - 16 / H, TITLE, color=BLUE, fontsize=14.5, ha='center', va='center')
fig.text(515.5 / W, 1 - 590 / H, XLABEL, color=BLUE, fontsize=14.5, ha='center', va='center')
fig.text(965 / W, 1 - 299 / H, YLABEL_RIGHT, color=BLUE, fontsize=14.5, rotation=90, ha='center', va='center')
fig.text(20 / W, 1 - 297 / H, YLABEL_LEFT, color=BLUE, fontsize=14.5, rotation=90, ha='center', va='center', style='italic')

levels = np.linspace(TEMP_RANGE[0], TEMP_RANGE[1], 510)
gradient = np.append(levels, [TMAX, TMAX]).reshape(-1, 1)
cax.imshow(gradient, origin='lower', extent=[0, 1, *TEMP_RANGE], aspect='auto', cmap=cmap, vmin=0, vmax=TMAX,
           interpolation='nearest')
cax.set_xlim(0, 1)
cax.set_ylim(*TEMP_RANGE)
cax.set_xticks([])
cax.yaxis.set_major_locator(MultipleLocator(2))
cax.yaxis.set_minor_locator(MultipleLocator(0.5))
cax.tick_params(axis='y', which='major', direction='out', length=6.8, width=1, color=BLUE,
                labelcolor=BLUE, labelsize=14.5, pad=6.5)
cax.tick_params(axis='y', which='minor', direction='out', length=3.4, width=1, color=BLUE)
for lab in cax.get_yticklabels():
    lab.set_style('italic')
for s in cax.spines.values():
    s.set_color(BLUE)
    s.set_linewidth(1.0)

fig.savefig('out.png', dpi=100)
